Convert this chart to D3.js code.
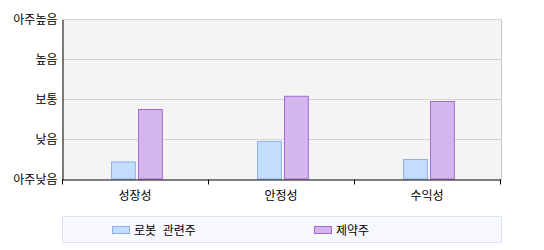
<!DOCTYPE html>
<html>
<head>
<meta charset="utf-8">
<script src="https://cdn.jsdelivr.net/npm/d3@7"></script>
<style>
  body { margin: 0; background: #fff; }
  text { font-family: "Noto Sans CJK KR", "Noto Sans", sans-serif; font-size: 12px; fill: #000; }
</style>
</head>
<body>
<div id="chart"></div>
<script>
"use strict";

// data
let categories = ["성장성", "안정성", "수익성"];
let seriesNames = ["로봇 관련주", "제약주"];
let robotValues = [0.44, 0.95, 0.5];
let pharmaValues = [1.75, 2.08, 1.95];
let levelLabels = ["아주낮음", "낮음", "보통", "높음", "아주높음"];

let fills = ["#c3dcff", "#d4b6ee"];
let strokes = ["#8eb0ee", "#a66dd0"];

let width = 544, height = 250;
let plotLeft = 62, plotRight = 501, plotTop = 19.5, plotBottom = 179.5;

let svg = d3.select("#chart").append("svg")
  .attr("width", width)
  .attr("height", height);

// scales
let x = d3.scaleBand().domain(categories).range([plotLeft, 500]);
let y = d3.scaleLinear().domain([0, levelLabels.length - 1]).range([plotBottom, plotTop]);

// plot background
svg.append("rect")
  .attr("x", plotLeft).attr("y", plotTop)
  .attr("width", plotRight - plotLeft).attr("height", plotBottom - plotTop)
  .attr("fill", "#f4f4f4");

// grid lines
svg.append("g")
  .selectAll("line")
  .data(d3.range(1, levelLabels.length))
  .join("line")
  .attr("x1", plotLeft).attr("x2", plotRight)
  .attr("y1", d => y(d)).attr("y2", d => y(d))
  .attr("stroke", "#d4d4d4");

// right border
svg.append("line")
  .attr("x1", plotRight + 0.5).attr("x2", plotRight + 0.5)
  .attr("y1", plotTop).attr("y2", plotBottom)
  .attr("stroke", "#c8c8c8");

// bars
let table = categories.map((c, i) => ({ cat: c, values: [robotValues[i], pharmaValues[i]] }));

let groups = svg.append("g")
  .selectAll("g")
  .data(table)
  .join("g");

groups.each(function (d) {
  let c = x(d.cat) + x.bandwidth() / 2;
  let inner = d3.scaleBand().domain(d3.range(seriesNames.length))
    .range([c - 24, c + 27]).paddingInner(0.12);
  d3.select(this).selectAll("rect")
    .data(d.values)
    .join("rect")
    .attr("x", (v, i) => Math.round(inner(i)) + 0.5)
    .attr("y", v => y(v))
    .attr("width", inner.bandwidth())
    .attr("height", v => plotBottom - 0.5 - y(v))
    .attr("fill", (v, i) => fills[i])
    .attr("stroke", (v, i) => strokes[i]);
});

// y axis
let yAxis = svg.append("g")
  .attr("transform", `translate(${plotLeft + 0.5},0)`)
  .call(d3.axisLeft(y).ticks(levelLabels.length - 1).tickSize(0).tickPadding(5)
    .tickFormat(d => levelLabels[d]));
yAxis.select(".domain").attr("stroke", "#000");
yAxis.selectAll("text").style("font-size", "12px").style("font-family", null);

// x axis
let xAxis = svg.append("g")
  .attr("transform", `translate(0,${plotBottom})`)
  .call(d3.axisBottom(x).tickSize(0).tickPadding(12));
xAxis.select(".domain").attr("d", `M${plotLeft},0.5H${plotRight}`).attr("stroke", "#000");
xAxis.selectAll("text").style("font-size", "12px").style("font-family", null);

// boundary ticks
svg.append("g")
  .selectAll("line")
  .data(categories.map(c => x(c)).concat([x.range()[1]]))
  .join("line")
  .attr("x1", d => d + 0.5).attr("x2", d => d + 0.5)
  .attr("y1", plotBottom).attr("y2", plotBottom + 5)
  .attr("stroke", "#000");

// legend
svg.append("rect")
  .attr("x", 62.5).attr("y", 216.5)
  .attr("width", 439).attr("height", 26)
  .attr("fill", "#f7f9fe")
  .attr("stroke", "#dce3ef");

let legendX = [112, 314];
let legend = svg.append("g")
  .selectAll("g")
  .data(seriesNames)
  .join("g")
  .attr("transform", (d, i) => `translate(${legendX[i]},0)`);

legend.append("rect")
  .attr("x", 0.5).attr("y", 226.5)
  .attr("width", 17).attr("height", 7)
  .attr("fill", (d, i) => fills[i])
  .attr("stroke", (d, i) => strokes[i]);

legend.append("text")
  .attr("x", 22).attr("y", 235)
  .style("word-spacing", "4px")
  .text(d => d);
</script>
</body>
</html>
